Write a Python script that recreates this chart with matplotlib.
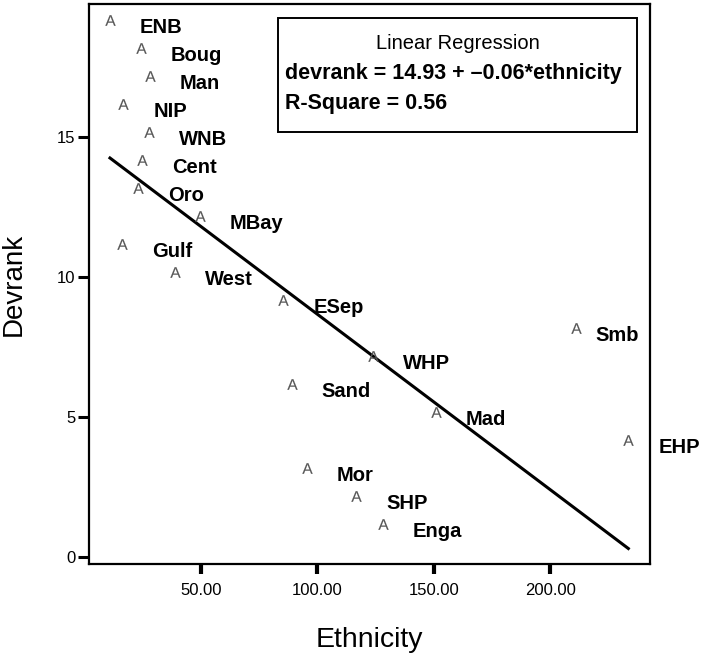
import numpy as np
import matplotlib
matplotlib.use("Agg")
import matplotlib.pyplot as plt
import matplotlib.transforms as mtransforms
from matplotlib.patches import Rectangle

plt.rcParams['font.family'] = ['Liberation Sans', 'DejaVu Sans']
plt.rcParams['mathtext.fontset'] = 'custom'
plt.rcParams['mathtext.rm'] = 'Liberation Sans'

provinces = ["ENB", "Boug", "Man", "NIP", "WNB", "Cent", "Oro", "MBay", "Gulf", "West",
             "ESep", "Smb", "WHP", "Sand", "Mad", "EHP", "Mor", "SHP", "Enga"]
ethnicity = [11.0, 24.3, 28.2, 16.7, 27.9, 24.6, 23.2, 49.7, 16.3, 38.9,
             85.5, 211.0, 123.8, 89.0, 150.9, 233.6, 95.5, 116.7, 128.1]
devrank = [19, 18, 17, 16, 15, 14, 13, 12, 11, 10,
           9, 8, 7, 6, 5, 4, 3, 2, 1]

x_ticks = [50, 100, 150, 200]
x_ticklabels = ["50.00", "100.00", "150.00", "200.00"]
y_ticks = [0, 5, 10, 15]
y_ticklabels = ["0", "5", "10", "15"]

legend_title = "Linear Regression"
legend_eq = "devrank = 14.93 + \u20130.06*ethnicity"
legend_r2 = "R-Square = 0.56"

fig = plt.figure(figsize=(7.03, 6.55), dpi=100)
ax = fig.add_axes([0.1273, 0.1389, 0.7973, 0.855])

x = np.array(ethnicity)
y = np.array(devrank, dtype=float)

# markers (glyph sits a little above the data point, as in the reference)
mk_trans = mtransforms.offset_copy(ax.transData, fig=fig, x=0, y=5, units='dots')
ax.scatter(x, y, marker=r'$\mathrm{A}$', s=58, color='#555555', linewidths=0.1,
           transform=mk_trans, zorder=3)

label_dx = {"Smb": 20}
for name, xi, yi in zip(provinces, x, y):
    ax.annotate(name, (xi, yi), xytext=(label_dx.get(name, 30), -3),
                textcoords='offset pixels',
                ha='left', va='center', fontsize=14.5, fontweight='bold',
                annotation_clip=False, zorder=4)

# regression line
slope, intercept = np.polyfit(x, y, 1)
xl = np.array([x.min(), x.max()])
ax.plot(xl, intercept + slope * xl, color='black', lw=2.2, zorder=2)

ax.set_xlim(2.2, 242.9)
ax.set_ylim(-0.26, 19.74)
ax.set_xticks(x_ticks)
ax.set_xticklabels(x_ticklabels)
ax.set_yticks(y_ticks)
ax.set_yticklabels(y_ticklabels)
ax.tick_params(axis='x', direction='out', length=7.5, width=3, pad=6, labelsize=12)
ax.tick_params(axis='y', direction='out', length=8, width=2.2, pad=2, labelsize=12)
for sp in ax.spines.values():
    sp.set_linewidth(1.6)

ax.set_xlabel("Ethnicity", fontsize=20.5, labelpad=21)
ax.set_ylabel("Devrank", fontsize=20, labelpad=22)

# regression info box
ax.add_patch(Rectangle((0.337, 0.772), 0.9763 - 0.337, 0.9745 - 0.772,
                       transform=ax.transAxes, fill=False, lw=1.4,
                       edgecolor='black', zorder=5))
ax.text(0.6575, 0.930, legend_title, transform=ax.transAxes, ha='center',
        va='center', fontsize=14.5)
ax.text(0.3488, 0.876, legend_eq, transform=ax.transAxes, ha='left',
        va='center', fontsize=15.5, fontweight='bold')
ax.text(0.3488, 0.823, legend_r2, transform=ax.transAxes, ha='left',
        va='center', fontsize=15.5, fontweight='bold')

fig.savefig("out.png", dpi=100)
